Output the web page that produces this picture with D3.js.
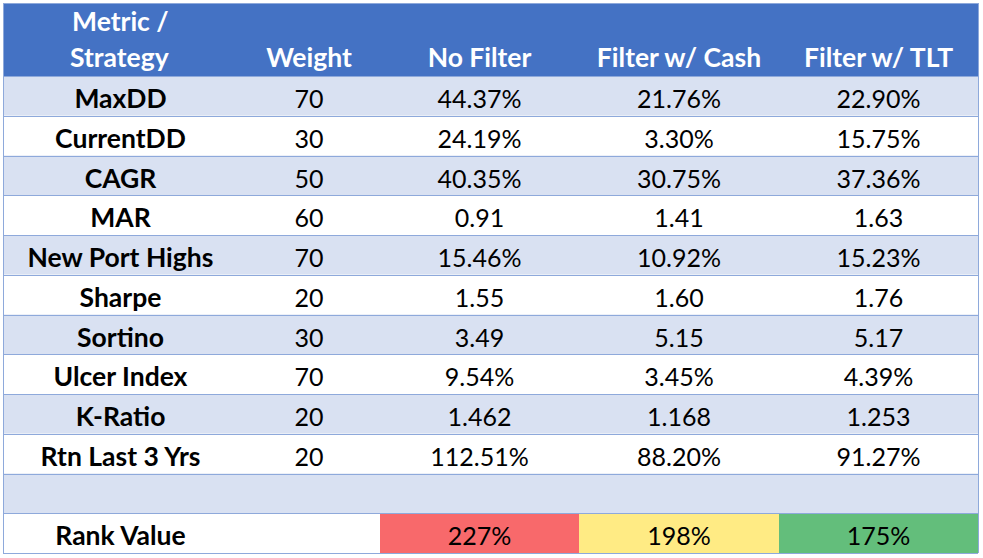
<!DOCTYPE html>
<html><head><meta charset="utf-8">
<script src="https://cdn.jsdelivr.net/npm/d3@7"></script>
<style>body{margin:0;background:#fff}svg{display:block}text{font-family:Lato,"Open Sans",sans-serif}</style>
</head><body><svg id="c" width="983" height="558"></svg>
<script>
const metrics = ["MaxDD","CurrentDD","CAGR","MAR","New Port Highs","Sharpe","Sortino","Ulcer Index","K-Ratio","Rtn Last 3 Yrs"];
const weights = [70,30,50,60,70,20,30,70,20,20];
const noFilter = ["44.37%","24.19%","40.35%","0.91","15.46%","1.55","3.49","9.54%","1.462","112.51%"];
const filterCash = ["21.76%","3.30%","30.75%","1.41","10.92%","1.60","5.15","3.45%","1.168","88.20%"];
const filterTLT = ["22.90%","15.75%","37.36%","1.63","15.23%","1.76","5.17","4.39%","1.253","91.27%"];
const headers = ["Metric /\nStrategy","Weight","No Filter","Filter w/ Cash","Filter w/ TLT"];
const rankLabel = "Rank Value";
const rankValues = [227,198,175];

(function(){
const svg = d3.select("#c");
const colEdges = [3,238,380,579,779,978];
const tableTop = 3, headerBottom = 76, tableBottom = 553;
const rowKeys = metrics.concat(["__blank","__rank"]);
const y = d3.scaleBand().domain(rowKeys).range([headerBottom,tableBottom]).padding(0);
const colCenter = i => (colEdges[i]+colEdges[i+1])/2;
const blue="#4472C4", light="#D9E1F2", border="#8EA9DB";
const rankColor = d3.scaleLinear().domain([d3.min(rankValues), d3.median(rankValues), d3.max(rankValues)]).range(["#63BE7B","#FFEB84","#F8696B"]);

svg.append("rect").attr("x",colEdges[0]).attr("y",tableTop).attr("width",colEdges[5]-colEdges[0]).attr("height",headerBottom-tableTop).attr("fill",blue);
rowKeys.forEach((k,i)=>{
  svg.append("rect").attr("x",colEdges[0]).attr("y",y(k)).attr("width",colEdges[5]-colEdges[0]).attr("height",y.bandwidth())
    .attr("fill", i%2===0 ? light : "#fff");
});
rankValues.forEach((v,i)=>{
  svg.append("rect").attr("x",colEdges[i+2]).attr("y",y("__rank")).attr("width",colEdges[i+3]-colEdges[i+2]).attr("height",y.bandwidth()).attr("fill",rankColor(v));
});
const hl = [tableTop].concat(rowKeys.map(k=>y(k))).concat([tableBottom]);
svg.selectAll("line.h").data(hl).join("line").attr("class","h")
  .attr("x1",colEdges[0]).attr("x2",colEdges[5]).attr("y1",d=>Math.round(d)+0.5).attr("y2",d=>Math.round(d)+0.5)
  .attr("stroke",border).attr("stroke-width",1);
[colEdges[0],colEdges[5]].forEach(x=>{
  svg.append("line").attr("x1",x+0.5).attr("x2",x+0.5).attr("y1",tableTop).attr("y2",tableBottom).attr("stroke",border);
});

const fsB = 26.5, fsR = 25;
const hdr = svg.append("g").attr("fill","#fff").attr("font-weight","bold").attr("font-size",fsB);
const hl0 = headers[0].split("\n");
hdr.append("text").attr("x",72).attr("y",31).text(hl0[0]);
hdr.append("text").attr("x",70).attr("y",67).text(hl0[1]);
headers.slice(1).forEach((h,i)=>{
  hdr.append("text").attr("x",colCenter(i+1)).attr("y",67).attr("text-anchor","middle").text(h);
});

const off = 32;
const body = svg.append("g").attr("font-size",fsR).attr("fill","#000");
metrics.forEach((m,i)=>{
  body.append("text").attr("x",colCenter(0)).attr("y",y(m)+off).attr("text-anchor","middle").attr("font-weight","bold").attr("font-size",fsB).text(m);
  [weights[i],noFilter[i],filterCash[i],filterTLT[i]].forEach((v,j)=>{
    body.append("text").attr("x",colCenter(j+1)).attr("y",y(m)+off).attr("text-anchor","middle").text(v);
  });
});
body.append("text").attr("x",colCenter(0)).attr("y",y("__rank")+off).attr("text-anchor","middle").attr("font-weight","bold").attr("font-size",fsB).text(rankLabel);
rankValues.forEach((v,i)=>{
  body.append("text").attr("x",colCenter(i+2)).attr("y",y("__rank")+off).attr("text-anchor","middle").text(v+"%");
});
})();
</script></body></html>
